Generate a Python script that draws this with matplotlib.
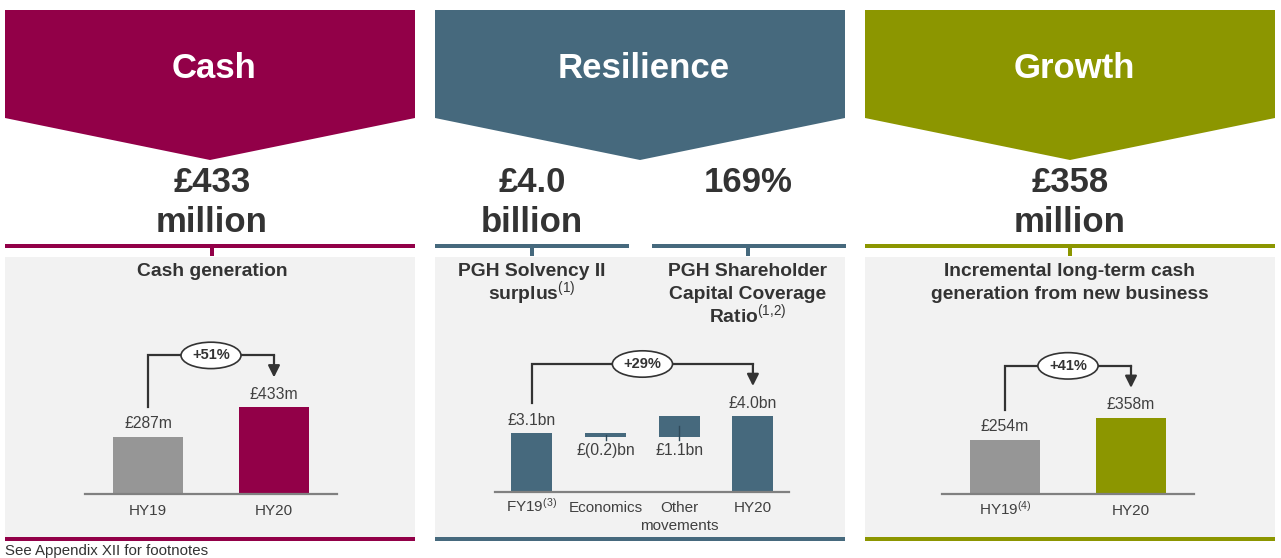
import matplotlib
matplotlib.use("Agg")
import matplotlib.pyplot as plt
from matplotlib.patches import Polygon, Rectangle
from matplotlib.transforms import offset_copy

plt.rcParams['font.family'] = ['Liberation Sans', 'DejaVu Sans']
plt.rcParams['mathtext.fontset'] = 'custom'
plt.rcParams['mathtext.rm'] = 'Liberation Sans'
plt.rcParams['mathtext.it'] = 'Liberation Sans:italic'
plt.rcParams['mathtext.bf'] = 'Liberation Sans:bold'

# ---- data ----
cash_periods = ['HY19', 'HY20']
cash_values = [287, 433]
cash_labels = ['£287m', '£433m']
cash_change = '+51%'

surplus_steps = ['FY19$^{(3)}$', 'Economics', 'Other\nmovements', 'HY20']
surplus_start = 3.1
surplus_moves = [-0.2, 1.1]
surplus_end = 4.0
surplus_labels = ['£3.1bn', '£(0.2)bn', '£1.1bn', '£4.0bn']
surplus_change = '+29%'

growth_periods = ['HY19$^{(4)}$', 'HY20']
growth_values = [254, 358]
growth_labels = ['£254m', '£358m']
growth_change = '+41%'

# ---- style ----
W, H = 1281, 558
CASH = '#920048'
RES = '#46697D'
GROW = '#8C9600'
GREY_BAR = '#969696'
PANEL = '#F2F2F2'
DARK = '#333333'
TXT = '#404040'

fig = plt.figure(figsize=(W / 100, H / 100), dpi=100)
bg = fig.add_axes([0, 0, 1, 1])
bg.set_xlim(0, W)
bg.set_ylim(H, 0)
bg.axis('off')

sections = [(5, 415, CASH, 'Cash'), (435, 845, RES, 'Resilience'), (865, 1275, GROW, 'Growth')]
for left, right, col, title in sections:
    mid = (left + right) / 2
    bg.add_patch(Polygon([(left, 10), (right, 10), (right, 118), (mid, 160), (left, 118)],
                         closed=True, fc=col, ec='none'))
    bg.text(mid + 4, 69, title, color='white', fontsize=25, fontweight='bold',
            ha='center', va='center')
    bg.add_patch(Rectangle((left, 257), right - left, 280, fc=PANEL, ec='none'))
    bg.add_patch(Rectangle((left, 537), right - left, 4, fc=col, ec='none'))

# top rules with small ticks
rules = [(5, 415, 212, CASH), (435, 629, 532, RES), (652, 846, 748, RES), (865, 1275, 1070, GROW)]
for l, r, t, col in rules:
    bg.add_patch(Rectangle((l, 244), r - l, 4, fc=col, ec='none'))
    bg.add_patch(Rectangle((t - 2, 244), 4, 12, fc=col, ec='none'))

# headline figures
heads = [(212, ['£433', 'million']), (532, ['£4.0', 'billion']), (748, ['169%']),
         (1070, ['£358', 'million'])]
for x, lines in heads:
    for i, s in enumerate(lines):
        bg.text(x, 183 + 40 * i, s, color=DARK, fontsize=25, fontweight='bold',
                ha='center', va='center')

subs = [(212, ['Cash generation']),
        (532, ['PGH Solvency II', 'surplus$^{(1)}$']),
        (748, ['PGH Shareholder', 'Capital Coverage', 'Ratio$^{(1{,}2)}$']),
        (1070, ['Incremental long-term cash', 'generation from new business'])]
for x, lines in subs:
    for i, s in enumerate(lines):
        bg.text(x, 276 + 23 * i, s, color=DARK, fontsize=13.9, fontweight='bold',
                ha='center', va='baseline')

bg.text(5, 558, 'See Appendix XII for footnotes', color=DARK, fontsize=10.8,
        ha='left', va='bottom')


def chart_axes(px_l, px_r, px_base, px_top, xlim, ymax):
    ax = fig.add_axes([px_l / W, 1 - px_base / H, (px_r - px_l) / W, (px_base - px_top) / H])
    ax.set_xlim(*xlim)
    ax.set_ylim(0, ymax)
    ax.patch.set_alpha(0)
    for s in ['top', 'right', 'left']:
        ax.spines[s].set_visible(False)
    ax.spines['bottom'].set_color('#808080')
    ax.spines['bottom'].set_linewidth(1.6)
    ax.set_yticks([])
    ax.set_xticks([])
    upp = ymax / (px_base - px_top)  # data units per pixel
    return ax, upp


def category_labels(ax, labels, first_px):
    # labels sit on a common baseline, so superscripts don't push them down
    for i, lab in enumerate(labels):
        for j, line in enumerate(lab.split('\n')):
            tr = offset_copy(ax.get_xaxis_transform(), fig=fig,
                             y=-(first_px + 18 * j) * 0.72, units='points')
            ax.text(i, 0, line, transform=tr, ha='center', va='baseline',
                    fontsize=11, color=TXT)


def connector(ax, upp, x0, top0, x1, top1, label):
    y0 = top0 + 30 * upp
    y1 = top1 + 30 * upp
    yh = max(top0, top1) + 52 * upp
    ax.plot([x0, x0, x1], [y0, yh, yh], color=DARK, lw=1.6, clip_on=False,
            solid_joinstyle='miter')
    ax.annotate('', xy=(x1, y1), xytext=(x1, yh),
                arrowprops=dict(arrowstyle='-|>,head_length=0.7,head_width=0.35',
                                color=DARK, lw=1.6, shrinkA=0, shrinkB=0),
                annotation_clip=False)
    ax.text((x0 + x1) / 2, yh, label, ha='center', va='center', fontsize=10.5,
            fontweight='bold', color=DARK,
            bbox=dict(boxstyle='ellipse,pad=0.16', fc='white', ec=DARK, lw=1.2))


def two_bar(px_l, px_r, px_base, px_top, ymax, periods, values, labels, colors, change):
    ax, upp = chart_axes(px_l, px_r, px_base, px_top, (-0.5, 1.5), ymax)
    ax.bar(range(len(values)), values, width=0.556, color=colors)
    for i, (v, s) in enumerate(zip(values, labels)):
        ax.text(i, v + 13 * upp, s, ha='center', va='center', fontsize=11.3, color=TXT)
    category_labels(ax, periods, 21)
    connector(ax, upp, 0, values[0], 1, values[1], change)


# Cash
two_bar(85, 337, 494, 330, 820, cash_periods, cash_values, cash_labels,
        [GREY_BAR, CASH], cash_change)

# Growth
two_bar(942, 1194, 494, 330, 771, growth_periods, growth_values, growth_labels,
        [GREY_BAR, GROW], growth_change)

# Resilience waterfall
ax, upp = chart_axes(495, 789, 492, 330, (-0.502, 3.49), 162 / 19)
running = surplus_start
bottoms, heights = [0], [surplus_start]
for m in surplus_moves:
    new = running + m
    bottoms.append(min(running, new))
    heights.append(abs(m))
    running = new
bottoms.append(0)
heights.append(surplus_end)
xs = range(len(heights))
ax.bar(xs, heights, bottom=bottoms, width=0.556, color=RES)
for i in (1, 2):
    b, h = bottoms[i], heights[i]
    ax.plot([i, i], [b + h / 2, b - 3 * upp], color='#2f4a5a', lw=1)
    ax.text(i, b - 14 * upp, surplus_labels[i], ha='center', va='center',
            fontsize=11.3, color=TXT)
for i in (0, 3):
    ax.text(i, heights[i] + 13 * upp, surplus_labels[i], ha='center', va='center',
            fontsize=11.3, color=TXT)
category_labels(ax, surplus_steps, 20)
connector(ax, upp, 0, surplus_start, 3, surplus_end, surplus_change)

fig.savefig('out.png', dpi=100)
